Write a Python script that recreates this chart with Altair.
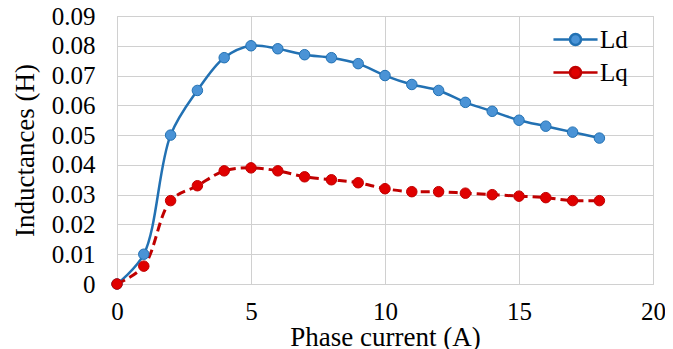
import altair as alt
import pandas as pd

current = list(range(0, 19))
ld = [0.0, 0.010, 0.050, 0.065, 0.076, 0.080, 0.079, 0.077, 0.076, 0.074,
      0.070, 0.067, 0.065, 0.061, 0.058, 0.055, 0.053, 0.051, 0.049]
lq = [0.0, 0.006, 0.028, 0.033, 0.038, 0.039, 0.038, 0.036, 0.035, 0.034,
      0.032, 0.031, 0.031, 0.0305, 0.030, 0.0295, 0.029, 0.028, 0.028]
series = ["Ld", "Lq"]
line_colors = ["#2271b3", "#c00000"]
fill_colors = ["#4a93d6", "#e00000"]

df = pd.DataFrame(
    {"current": current * 2,
     "value": ld + lq,
     "series": ["Ld"] * len(current) + ["Lq"] * len(current)}
)

FONT = "Liberation Serif"
SYMBOL = "M-1.6,0L-0.4,0M0.4,0L1.6,0M0.4,0A0.4,0.4 0 1 1 -0.4,0A0.4,0.4 0 1 1 0.4,0"

x = alt.X("current:Q", title="Phase current (A)",
          scale=alt.Scale(domain=[0, 20], nice=False),
          axis=alt.Axis(values=[0, 5, 10, 15, 20], labelFontSize=25, titleFontSize=27,
                        labelFont=FONT, titleFont=FONT, labelFlush=False,
                        labelPadding=15, titlePadding=0))
y = alt.Y("value:Q", title="Inductances (H)",
          scale=alt.Scale(domain=[0, 0.09], nice=False),
          axis=alt.Axis(values=[0, 0.01, 0.02, 0.03, 0.04, 0.05, 0.06, 0.07, 0.08, 0.09],
                        format="~g", labelFontSize=25, titleFontSize=27,
                        labelFont=FONT, titleFont=FONT, labelFlush=False,
                        labelPadding=22, titlePadding=12))

legend = alt.Legend(title=None, orient="none", legendX=443, legendY=8,
                    symbolType=SYMBOL, symbolSize=760, symbolStrokeWidth=2.5,
                    labelFontSize=25, labelFont=FONT, labelOffset=9,
                    rowPadding=4, padding=0, labelColor="#000000")
stroke = alt.Stroke("series:N", scale=alt.Scale(domain=series, range=line_colors), legend=legend)
fill = alt.Fill("series:N", scale=alt.Scale(domain=series, range=fill_colors), legend=legend)

base = alt.Chart(df)

line_ld = base.transform_filter(alt.datum.series == "Ld").mark_line(
    interpolate="catmull-rom", strokeWidth=2.5).encode(x=x, y=y, stroke=stroke)
line_lq = base.transform_filter(alt.datum.series == "Lq").mark_line(
    interpolate="catmull-rom", strokeWidth=3, strokeDash=[9, 5]).encode(x=x, y=y, stroke=stroke)
points = base.mark_point(filled=False, size=110, strokeWidth=1, opacity=1).encode(
    x=x, y=y, stroke=stroke, fill=fill)

chart = alt.layer(line_ld, line_lq, points).properties(
    width=536, height=268,
    padding={"left": 109, "top": 8, "right": 12, "bottom": 68},
    autosize=alt.AutoSizeParams(type="none"),
    background="white",
).configure(
    font=FONT,
).configure_axis(
    labelFont=FONT, titleFont=FONT, labelColor="#000000", titleColor="#000000",
    titleFontWeight="normal", ticks=False, domain=False,
    gridColor="#d0d0d0", gridWidth=1,
).configure_view(
    stroke="#c8c8c8", strokeWidth=1,
)

chart.save("out.html", embed_options={"renderer": "svg", "actions": False})
